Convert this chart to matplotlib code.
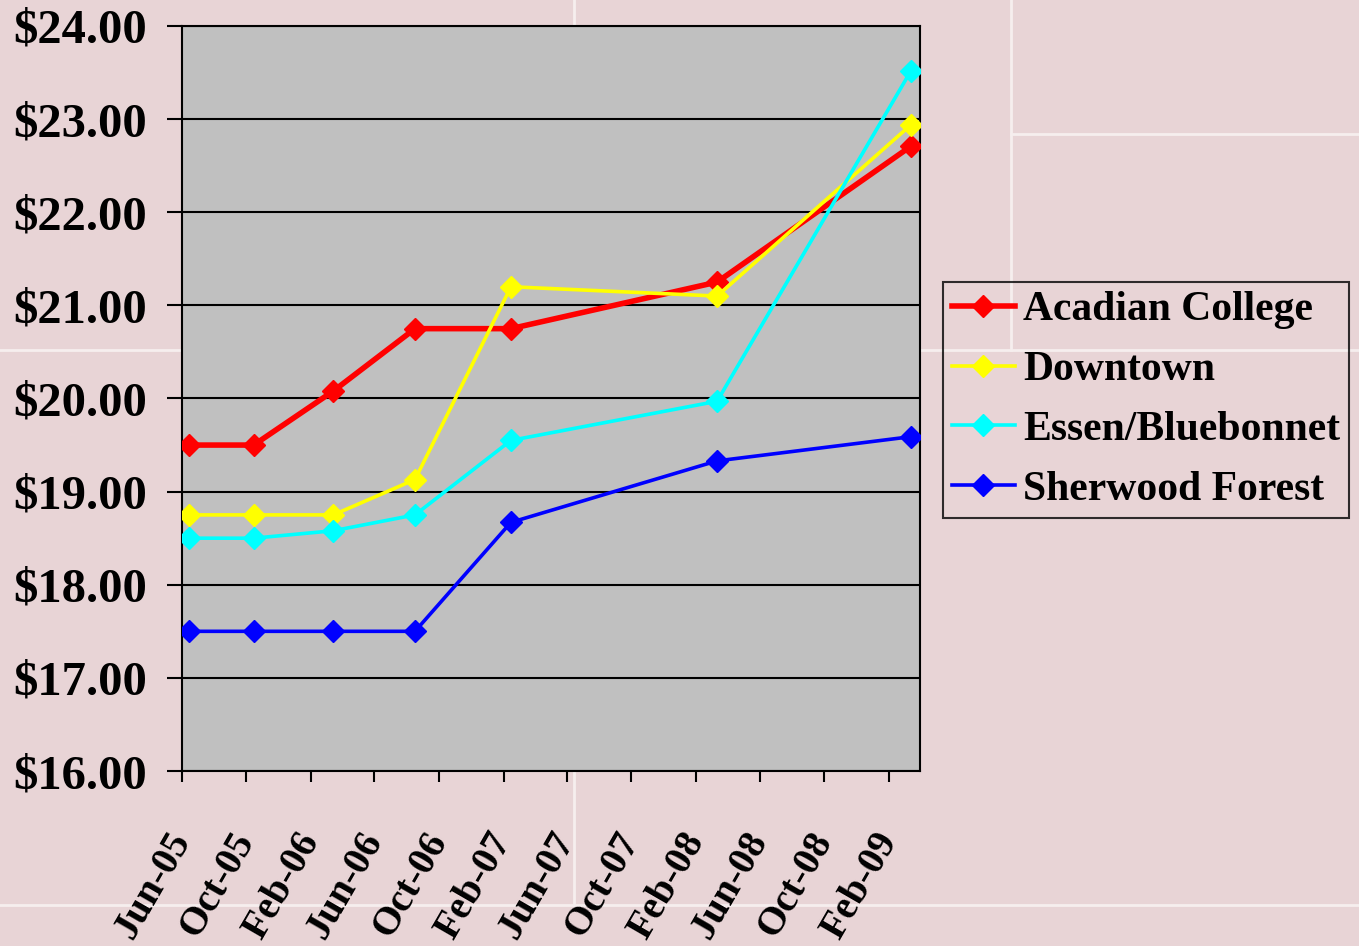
import numpy as np
import matplotlib.pyplot as plt
import matplotlib.dates as mdates
from matplotlib.lines import Line2D
from datetime import date

# survey dates and hourly rates by location
dates = [date(2005, 6, 15), date(2005, 10, 15), date(2006, 3, 15), date(2006, 8, 17),
         date(2007, 2, 15), date(2008, 3, 12), date(2009, 3, 15)]
acadian = [19.50, 19.50, 20.08, 20.75, 20.75, 21.25, 22.71]
downtown = [18.75, 18.75, 18.75, 19.13, 21.20, 21.10, 22.94]
essen = [18.50, 18.50, 18.58, 18.75, 19.55, 19.97, 23.52]
sherwood = [17.50, 17.50, 17.50, 17.50, 18.67, 19.33, 19.59]

series = [
    ("Acadian College", acadian, "#FF0000", 4.0),
    ("Downtown", downtown, "#FFFF00", 2.6),
    ("Essen/Bluebonnet", essen, "#00FFFF", 2.6),
    ("Sherwood Forest", sherwood, "#0000FF", 2.6),
]

bg = "#E8D4D6"
font = "Liberation Serif"

fig = plt.figure(figsize=(13.59, 9.46), dpi=100, facecolor=bg)

# faint slide-background rules
W, H = 1359, 946
def rule(x0, y0, x1, y1):
    fig.add_artist(Line2D([x0 / W, x1 / W], [1 - y0 / H, 1 - y1 / H],
                          transform=fig.transFigure, color="#F6EEEE", lw=2, zorder=0))
rule(574, 0, 574, 905)
rule(0, 350, W, 350)
rule(1011, 0, 1011, 350)
rule(1011, 134, W, 134)
rule(0, 905, W, 905)

ax = fig.add_axes([182 / W, 1 - 771 / H, (920 - 182) / W, (771 - 26) / H])
ax.set_facecolor("#C0C0C0")

for name, vals, col, lw in series:
    ax.plot(dates, vals, color=col, lw=lw, marker="D", markersize=11.5,
            markeredgecolor=col, label=name, zorder=3)

ax.set_ylim(16, 24)
ax.set_yticks(np.arange(16, 25, 1))
ax.yaxis.set_major_formatter(plt.FuncFormatter(lambda v, p: f"${v:.2f}"))
ax.grid(axis="y", color="black", lw=1.5, zorder=1)
ax.set_axisbelow(True)

ax.set_xlim(date(2005, 6, 1), date(2009, 4, 1))
ax.xaxis.set_major_locator(mdates.MonthLocator(bymonth=[2, 6, 10]))
ax.xaxis.set_major_formatter(mdates.DateFormatter("%b-%y"))

for s in ax.spines.values():
    s.set_color("black")
    s.set_linewidth(1.5)

ax.tick_params(axis="y", direction="out", length=11, width=1.5, pad=14,
               labelsize=35)
ax.tick_params(axis="x", direction="out", length=8, width=1.5, pad=38,
               labelsize=28.5)
for lab in ax.get_yticklabels():
    lab.set_fontfamily(font)
    lab.set_fontweight("bold")
for lab in ax.get_xticklabels():
    lab.set_fontfamily(font)
    lab.set_fontweight("bold")
    lab.set_rotation(60)
    lab.set_ha("right")
    lab.set_va("center")
    lab.set_rotation_mode("anchor")

leg = fig.legend(loc="upper left", bbox_to_anchor=(943 / W, 1 - 282 / H),
                 prop={"family": font, "weight": "bold", "size": 30},
                 frameon=True, fancybox=False, edgecolor="black", facecolor="none",
                 handlelength=1.5, handletextpad=0.2, labelspacing=0.52,
                 borderpad=0.22, borderaxespad=0)
leg.get_frame().set_linewidth(1.5)

fig.savefig("out.png", dpi=100, facecolor=bg)
